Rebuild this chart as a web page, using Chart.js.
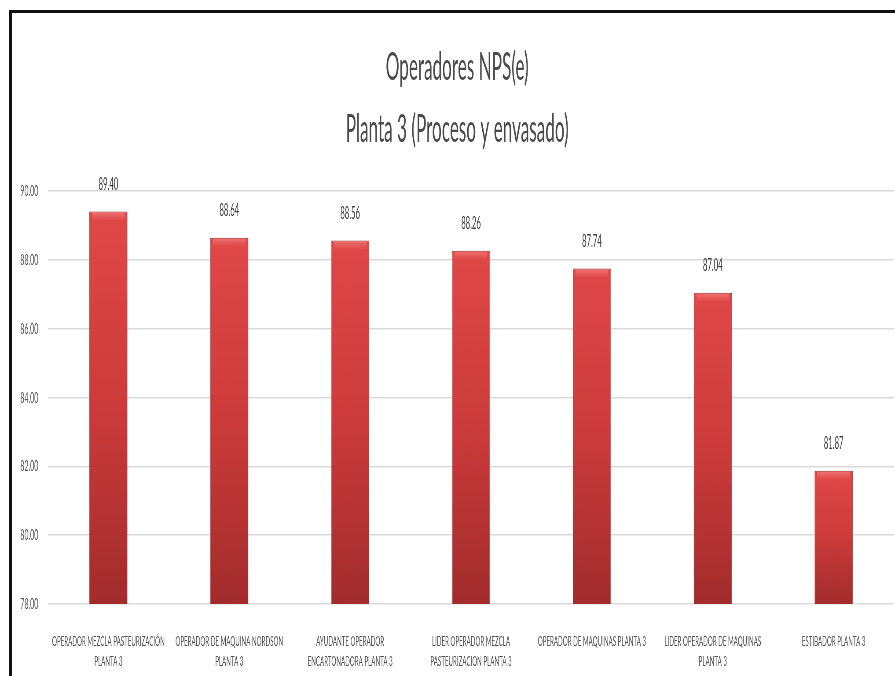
<!DOCTYPE html>
<html>
<head>
<meta charset="utf-8">
<script src="https://cdn.jsdelivr.net/npm/chart.js@4"></script>
<style>
  html, body { margin: 0; padding: 0; background: #fff; overflow: hidden; }
  /* the chart is laid out wide and squeezed horizontally, giving the narrow lettering */
  #wrap { position: absolute; left: 0; top: 0; width: 2034px; height: 676px;
          transform: scaleX(0.44); transform-origin: 0 0; }
  #frame { position: absolute; left: 9px; top: 10px; width: 1000px; height: 800px;
           border-left: 3px solid #111; border-top: 3px solid #111; pointer-events: none; }
</style>
</head>
<body>
<div id="wrap"><canvas id="c" width="2034" height="676"></canvas></div>
<div id="frame"></div>
<script>
// Positions and their NPS(e) score
const categories = [
  ["OPERADOR MEZCLA PASTEURIZACIÓN", "PLANTA 3"],
  ["OPERADOR DE MAQUINA NORDSON", "PLANTA 3"],
  ["AYUDANTE OPERADOR", "ENCARTONADORA PLANTA 3"],
  ["LIDER OPERADOR MEZCLA", "PASTEURIZACION PLANTA 3"],
  ["OPERADOR DE MAQUINAS PLANTA 3"],
  ["LIDER OPERADOR DE MAQUINAS", "PLANTA 3"],
  ["ESTIBADOR PLANTA 3"]
];
const npsValues = [89.40, 88.64, 88.56, 88.26, 87.74, 87.04, 81.87];
const yMin = 78;
const yMax = 90;
const yStep = 2;
const titleLines = ["Operadores NPS(e)", "Planta 3 (Proceso y envasado)"];

const FONT = "Lato, 'Open Sans', sans-serif";

// red bar shading: bright at the bar top, deeper toward the base
function barFill(ctx) {
  const chart = ctx.chart;
  const area = chart.chartArea;
  if (!area || ctx.type !== 'data') return '#c83a3a';
  const top = chart.scales.y.getPixelForValue(ctx.parsed.y);
  const g = chart.ctx.createLinearGradient(0, top, 0, area.bottom);
  g.addColorStop(0, '#e04848');
  g.addColorStop(0.5, '#cc3b3b');
  g.addColorStop(1, '#a22c2c');
  return g;
}

// light bevel along the top of each bar
const bevel = {
  id: 'bevel',
  afterDatasetsDraw(chart) {
    const c = chart.ctx;
    chart.getDatasetMeta(0).data.forEach(bar => {
      const p = bar.getProps(['x', 'y', 'width'], true);
      const left = p.x - p.width / 2;
      const g = c.createLinearGradient(0, p.y, 0, p.y + 9);
      g.addColorStop(0, 'rgba(255,150,150,0.55)');
      g.addColorStop(1, 'rgba(255,150,150,0)');
      c.save();
      c.fillStyle = g;
      c.fillRect(left + 6, p.y + 1, p.width - 12, 9);
      c.restore();
    });
  }
};

// value printed above each bar
const valueLabels = {
  id: 'valueLabels',
  afterDatasetsDraw(chart) {
    const c = chart.ctx;
    const ds = chart.data.datasets[0];
    c.save();
    c.font = "17.5px " + FONT;
    c.fillStyle = '#404040';
    c.textAlign = 'center';
    c.textBaseline = 'middle';
    chart.getDatasetMeta(0).data.forEach((bar, i) => {
      const p = bar.getProps(['x', 'y'], true);
      c.fillText(ds.data[i].toFixed(2), p.x, p.y - 27);
    });
    c.restore();
  }
};

new Chart(document.getElementById('c'), {
  type: 'bar',
  data: {
    labels: categories,
    datasets: [{
      data: npsValues,
      backgroundColor: barFill,
      borderColor: '#9a2b2b',
      borderWidth: 1,
      barPercentage: 0.315,
      categoryPercentage: 1
    }]
  },
  options: {
    responsive: false,
    animation: false,
    devicePixelRatio: 1,
    layout: { padding: { left: 46, right: 2, top: 0, bottom: 0 } },
    plugins: {
      legend: { display: false },
      tooltip: { enabled: false },
      title: {
        display: true,
        text: titleLines,
        color: '#4a4a4a',
        font: { family: FONT, size: 39, weight: 'normal', lineHeight: 1.6 },
        padding: { top: 36, bottom: 30 }
      }
    },
    scales: {
      x: {
        grid: { display: false },
        border: { display: false },
        ticks: {
          color: '#505050',
          font: { family: FONT, size: 14, lineHeight: 1.4 },
          padding: 20,
          maxRotation: 0,
          autoSkip: false
        },
        afterFit(scale) { scale.height = 72; }
      },
      y: {
        min: yMin,
        max: yMax,
        border: { display: false },
        grid: { color: '#d9d9d9', lineWidth: 1.5, drawTicks: false },
        ticks: {
          stepSize: yStep,
          color: '#595959',
          font: { family: FONT, size: 16 },
          padding: 22,
          callback: v => v.toFixed(2)
        },
        afterFit(scale) { scale.width = 63; }
      }
    }
  },
  plugins: [bevel, valueLabels]
});
</script>
</body>
</html>
